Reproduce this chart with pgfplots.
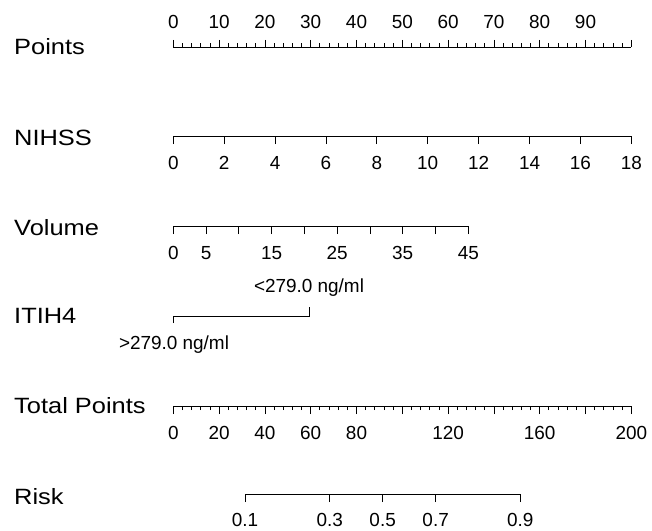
\documentclass[border=0pt]{standalone}
\usepackage{fontspec}
\setmainfont{Liberation Sans}
\newfontfamily\labfont[FakeStretch=1.15]{Liberation Sans}
\usepackage{pgfplots}
\pgfplotsset{compat=1.18}
\begin{document}
\begin{tikzpicture}
\useasboundingbox (0bp,0bp) rectangle (652bp,-531bp);
\pgfplotsset{
  nomo/.style={
    scale only axis, height=10bp, ymin=0, ymax=1,
    axis y line=none,
    tick align=outside,
    axis line style={black, line width=0.8bp, -},
    every tick/.style={black, line width=0.8bp},
    major tick length=8bp, minor tick length=4bp,
    ticklabel style={font=\fontsize{19}{19}\selectfont, inner sep=0pt},
    /pgf/number format/assume math mode=true,
    clip=false,
  },
  bot/.style={axis x line*=bottom, xtick pos=bottom, anchor=south west,
    xticklabel style={anchor=base, yshift=-25.5bp}},
  topax/.style={axis x line*=top, xtick pos=top, anchor=north west,
    xticklabel style={anchor=base, yshift=12bp}},
}
% left labels
\begin{scope}[every node/.style={anchor=base west, inner sep=0pt, font=\labfont\fontsize{22.2}{22.2}\selectfont}]
\node at (14bp,-54.5bp) {Points};
\node at (14bp,-145.3bp) {NIHSS};
\node at (14bp,-235bp) {Volume};
\node at (14bp,-323.3bp) {ITIH4};
\node at (14bp,-413.3bp) {Total Points};
\node at (14bp,-504bp) {Risk};
\end{scope}

% Points
\begin{axis}[nomo, topax, at={(173.3bp,-47bp)}, width=458bp, xmin=0, xmax=100,
  major tick length=7bp, minor tick length=3.5bp,
  xtick={0,10,...,100}, xticklabels={0,10,20,30,40,50,60,70,80,90,{}},
  minor x tick num=4]
\addplot[draw=none] coordinates {(0,0) (100,0)};
\end{axis}

% NIHSS
\begin{axis}[nomo, bot, at={(173.3bp,-136bp)}, width=458bp, xmin=0, xmax=18,
  xtick={0,2,...,18}, xticklabels={0,2,4,6,8,10,12,14,16,18}]
\addplot[draw=none] coordinates {(0,0) (18,0)};
\end{axis}

% Volume
\begin{axis}[nomo, bot, at={(173.3bp,-226bp)}, width=295bp, xmin=0, xmax=45,
  xtick={0,5,...,45}, xticklabels={0,5,{},15,{},25,{},35,{},45}]
\addplot[draw=none] coordinates {(0,0) (45,0)};
\end{axis}

% ITIH4
\begin{axis}[at={(173.3bp,-316bp)}, anchor=west, scale only axis, width=136.4bp, height=20bp,
  xmin=0, xmax=1, ymin=-1, ymax=1, hide axis, clip=false]
\addplot[black, line width=0.8bp] coordinates {(0,-0.7) (0,0) (1,0) (1,0.9)};
\end{axis}
\begin{scope}[every node/.style={anchor=base, inner sep=0pt, font=\fontsize{19}{19}\selectfont}]
\node at (309bp,-292.3bp) {<279.0 ng/ml};
\node at (174bp,-349.3bp) {>279.0 ng/ml};
\end{scope}

% Total Points
\begin{axis}[nomo, bot, at={(173.3bp,-406bp)}, width=458bp, xmin=0, xmax=200,
  xtick={0,20,...,200}, xticklabels={0,20,40,60,80,{},120,{},160,{},200},
  minor x tick num=4]
\addplot[draw=none] coordinates {(0,0) (200,0)};
\end{axis}

% Risk (positions in total points: 91.4 + 27.3*logit(p))
\begin{axis}[nomo, bot, at={(245bp,-494bp)}, width=275.3bp, xmin=31.4, xmax=151.4,
  xtick={31.4,68.3,91.4,114.5,151.4}, xticklabels={0.1,0.3,0.5,0.7,0.9},
  xticklabel style={yshift=1bp}]
\addplot[draw=none] coordinates {(31.4,0) (151.4,0)};
\end{axis}
\end{tikzpicture}
\end{document}
